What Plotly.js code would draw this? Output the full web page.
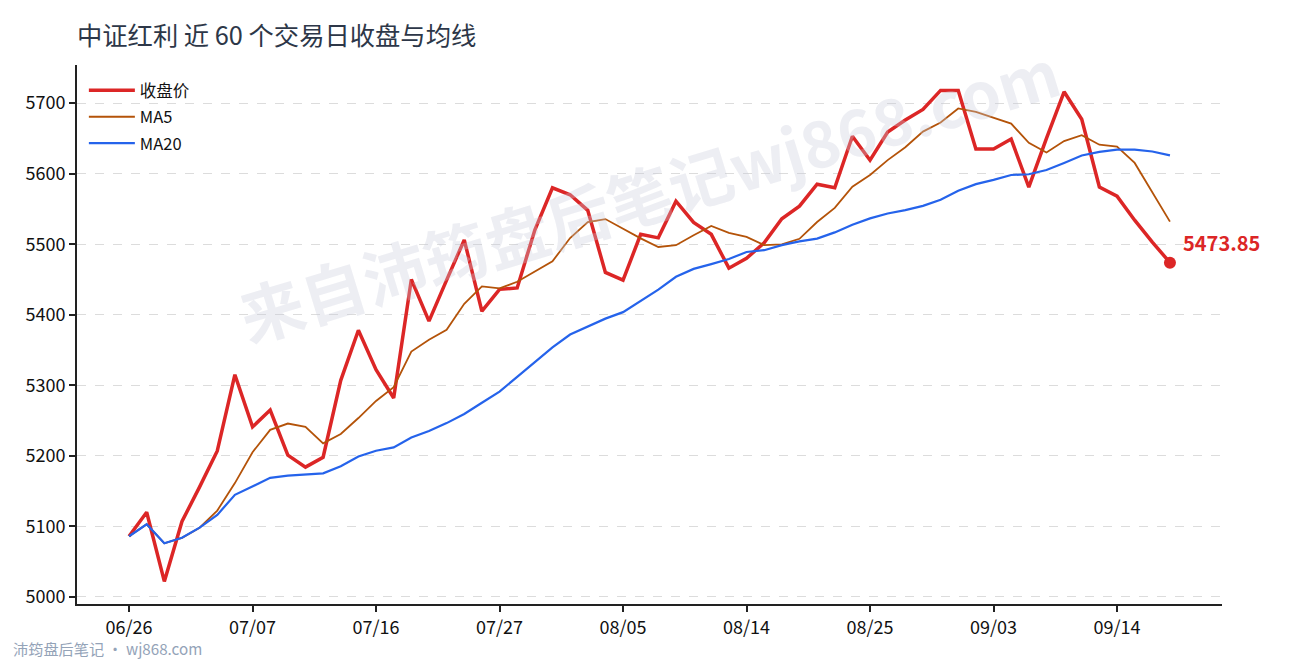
<!DOCTYPE html>
<html>
<head>
<meta charset="utf-8">
<script src="https://cdn.plot.ly/plotly-3.0.1.min.js"></script>
<style>
  html, body { margin: 0; padding: 0; background: #fff; }
  #chart { width: 1290px; height: 660px; }
</style>
</head>
<body>
<div id="chart"></div>
<script>
// ---- data ----
const dates = [
  "06/26","06/27","06/30","07/01","07/02","07/03","07/04",
  "07/07","07/08","07/09","07/10","07/11","07/14","07/15",
  "07/16","07/17","07/18","07/21","07/22","07/23","07/24",
  "07/27","07/28","07/29","07/30","07/31","08/01","08/04",
  "08/05","08/06","08/07","08/08","08/11","08/12","08/13",
  "08/14","08/15","08/18","08/19","08/20","08/21","08/22",
  "08/25","08/26","08/27","08/28","08/29","09/01","09/02",
  "09/03","09/04","09/05","09/08","09/09","09/10","09/11",
  "09/14","09/15","09/16","09/17"
];
const closePrice = [
  5086,5120,5022,5107,5156,5207,5315,5241,5265,5201,
  5184,5198,5307,5378,5322,5282,5450,5391,5449,5506,
  5405,5436,5438,5520,5580,5570,5548,5460,5449,5514,
  5509,5561,5531,5514,5466,5480,5502,5536,5554,5585,
  5580,5653,5619,5659,5676,5691,5718,5718,5635,5635,
  5649,5581,5650,5716,5677,5581,5568,5534,5503,5473.85
];
const ma5 = [
  5086,5103,5076,5083.8,5098.2,5122.4,5161.4,5205.2,5236.8,5245.8,
  5241.2,5217.8,5231.0,5253.6,5277.8,5297.4,5347.8,5364.6,5378.8,5415.6,
  5440.2,5437.4,5446.8,5461.0,5475.8,5508.8,5531.2,5535.6,5521.4,5508.2,
  5496.0,5498.6,5512.8,5525.8,5516.2,5510.4,5498.6,5499.6,5507.6,5531.4,
  5551.4,5581.6,5598.2,5619.2,5637.4,5659.6,5672.6,5692.4,5687.6,5679.4,
  5671.0,5643.6,5630.0,5646.2,5654.6,5641.0,5638.4,5615.2,5572.6,5532.0
];
const ma20 = [
  5086,5103,5076,5083.8,5098.2,5116.3,5144.7,5156.8,5168.8,5172.0,
  5173.1,5175.2,5185.3,5199.1,5207.3,5211.9,5226.0,5235.1,5246.4,5259.4,
  5275.3,5291.1,5311.9,5332.6,5353.8,5371.9,5383.6,5394.5,5403.7,5419.4,
  5435.6,5453.8,5465.0,5471.8,5479.0,5488.9,5491.5,5498.7,5504.0,5507.9,
  5516.7,5527.5,5536.6,5543.5,5548.3,5554.4,5562.9,5575.8,5585.1,5591.1,
  5598.1,5599.1,5605.1,5615.2,5625.7,5630.8,5634.1,5634.0,5631.4,5625.8
];
const seriesNames = ["收盘价", "MA5", "MA20"];
const tickLabels = ["06/26","07/07","07/16","07/27","08/05","08/14","08/25","09/03","09/14"];
const yTicks = [5000,5100,5200,5300,5400,5500,5600,5700];
const chartTitle = "中证红利 近 60 个交易日收盘与均线";
const watermark = "来自沛筠盘后笔记wj868.com";
const footer = "沛筠盘后笔记 · wj868.com";

// ---- chart ----
const FONT = '"Noto Sans CJK SC", "Noto Sans", sans-serif';
const RED = "#dc2626", ORANGE = "#b45309", BLUE = "#2563eb";
const last = closePrice.length - 1;
const W = 1290, H = 660, ML = 77, MR = 68, MT = 65, MB = 56;
const PW = W - ML - MR, PH = H - MT - MB;

const traces = [
  { x: dates, y: closePrice, name: seriesNames[0], type: "scatter", mode: "lines",
    line: { color: RED, width: 3.5 }, legendgroup: "a" },
  { x: dates, y: ma5, name: seriesNames[1], type: "scatter", mode: "lines",
    line: { color: ORANGE, width: 1.8 }, legendgroup: "b" },
  { x: dates, y: ma20, name: seriesNames[2], type: "scatter", mode: "lines",
    line: { color: BLUE, width: 2.2 }, legendgroup: "c" },
  { x: [dates[last]], y: [closePrice[last]], type: "scatter", mode: "markers",
    marker: { color: RED, size: 12 }, showlegend: false, hoverinfo: "skip" }
];

const layout = {
  width: W, height: H,
  paper_bgcolor: "#ffffff", plot_bgcolor: "#ffffff",
  margin: { l: ML, r: MR, t: MT, b: MB },
  font: { family: FONT, size: 16, color: "#222" },
  title: {
    text: chartTitle, font: { family: FONT, size: 25.3, color: "#2d3748" },
    x: 77 / W, xref: "container", xanchor: "left",
    y: 1 - 36 / H, yref: "container", yanchor: "middle"
  },
  xaxis: {
    type: "category", range: [-2.95, 61.95],
    tickmode: "array", tickvals: tickLabels, ticktext: tickLabels,
    showgrid: false, zeroline: false,
    showline: true, linecolor: "#222", linewidth: 2,
    ticks: "outside", ticklen: 6, tickwidth: 2, tickcolor: "#222",
    tickfont: { family: FONT, size: 18, color: "#111" }
  },
  yaxis: {
    range: [4990, 5754], tickmode: "array", tickvals: yTicks,
    showgrid: true, gridcolor: "#dcdcdc", griddash: "dash", gridwidth: 1,
    zeroline: false, showline: true, linecolor: "#222", linewidth: 2,
    ticks: "outside", ticklen: 6, tickwidth: 2, tickcolor: "#222",
    tickfont: { family: FONT, size: 18, color: "#111" }
  },
  legend: {
    x: 0.006, y: 0.985, xanchor: "left", yanchor: "top",
    bgcolor: "rgba(255,255,255,0)", borderwidth: 0,
    font: { family: FONT, size: 16.5, color: "#111" },
    tracegroupgap: 2, itemwidth: 46
  },
  showlegend: true,
  annotations: [
    { x: dates[last], y: closePrice[last], xref: "x", yref: "y",
      text: "<b>" + closePrice[last].toFixed(2) + "</b>", showarrow: false,
      xanchor: "left", yanchor: "middle", xshift: 11, yshift: 20,
      font: { family: FONT, size: 20, color: RED } },
    { x: (648 - ML) / PW, y: 1 - (192 - MT) / PH, xref: "paper", yref: "paper",
      text: "<b>" + watermark + "</b>", showarrow: false, textangle: -17,
      xanchor: "center", yanchor: "middle",
      font: { family: FONT, size: 64, color: "rgba(200,204,220,0.33)" } },
    { x: (11 - ML) / PW, y: -(648 - (H - MB)) / PH, xref: "paper", yref: "paper",
      text: footer, showarrow: false, xanchor: "left", yanchor: "middle",
      font: { family: FONT, size: 15.2, color: "#94a3b8" } }
  ]
};

Plotly.newPlot("chart", traces, layout, { displayModeBar: false, staticPlot: true });
</script>
</body>
</html>
